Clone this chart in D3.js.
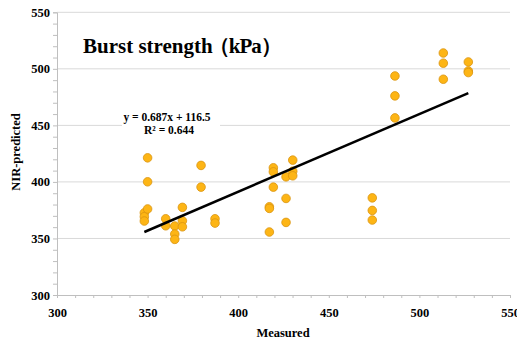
<!DOCTYPE html>
<html>
<head>
<meta charset="utf-8">
<script src="https://cdn.jsdelivr.net/npm/d3@7/dist/d3.min.js"></script>
<style>
  html, body { margin: 0; padding: 0; background: #fff; }
  svg { display: block; }
  .tick text { font-family: "Liberation Serif", "Times New Roman", serif; font-weight: bold; font-size: 12.5px; fill: #000; }
</style>
</head>
<body>
<svg id="chart" width="517" height="343"></svg>
<script>
// Burst strength: measured vs NIR-predicted (kPa)
const measured = [
  348.2, 348.2, 348.2, 350, 350, 350,
  360, 360, 365, 365, 365,
  369.2, 369.2, 369.2, 379.5, 379.5, 387.2, 387.2,
  417.2, 417.2, 417.2, 419.4, 419.4, 419.4,
  426.4, 426.4, 426.4, 430.1, 430.1, 430.1,
  474, 474, 474, 486.5, 486.5, 486.5,
  513.2, 513.2, 513.2, 527, 527, 527
];
const predicted = [
  372.7, 369.2, 365.4, 421.3, 400.1, 376.1,
  367.4, 361.2, 361, 353.9, 349.2,
  377.5, 365.6, 360.3, 414.6, 395.4, 367.4, 363.6,
  378, 376.6, 355.7, 412.5, 408.9, 395.4,
  404.5, 385.4, 364.2, 419.3, 409.5, 405.4,
  385.9, 374.8, 366.3, 493.7, 476.1, 456.6,
  514, 505, 490.8, 506.1, 498.1, 496.7
];
const xTicks = [300, 350, 400, 450, 500, 550];
const yTicks = [300, 350, 400, 450, 500, 550];
const slope = 0.687;
const intercept = 116.5;
const r2 = 0.644;
const titleMain = "Burst strength";
const titleUnit = "（kPa）";

const svg = d3.select("#chart");
const x = d3.scaleLinear().domain([300, 550]).range([57, 510]);
const y = d3.scaleLinear().domain([300, 550]).range([295, 12.3]);
const minor = d3.range(300, 551, 10);

// horizontal gridlines
svg.append("g").selectAll("line").data(yTicks.slice(1)).join("line")
  .attr("x1", x(300)).attr("x2", x(550))
  .attr("y1", d => y(d)).attr("y2", d => y(d))
  .attr("stroke", "#d9d9d9").attr("stroke-width", 1);

// minor ticks
const yMinor = svg.append("g").attr("transform", `translate(${x(300)},0)`)
  .call(d3.axisLeft(y).tickValues(minor).tickSize(4).tickFormat(""));
const xMinor = svg.append("g").attr("transform", `translate(0,${y(300)})`)
  .call(d3.axisBottom(x).tickValues(minor).tickSize(3).tickFormat(""));
[yMinor, xMinor].forEach(g => {
  g.select(".domain").attr("stroke", "#bfbfbf");
  g.selectAll(".tick line").attr("stroke", "#bfbfbf");
});

// labelled axes
const yAxis = svg.append("g").attr("transform", `translate(${x(300)},0)`)
  .call(d3.axisLeft(y).tickValues(yTicks).tickSize(0).tickPadding(7));
const xAxis = svg.append("g").attr("transform", `translate(0,${y(300)})`)
  .call(d3.axisBottom(x).tickValues(xTicks).tickSize(0).tickPadding(13.5));
[yAxis, xAxis].forEach(g => g.select(".domain").remove());

// axis titles
svg.append("text")
  .attr("x", 283).attr("y", 337)
  .attr("text-anchor", "middle")
  .attr("font-family", "Liberation Serif, Times New Roman, serif")
  .attr("font-weight", "bold").attr("font-size", 12.5)
  .text("Measured");
svg.append("text")
  .attr("transform", "translate(20,152) rotate(-90)")
  .attr("text-anchor", "middle")
  .attr("font-family", "Liberation Serif, Times New Roman, serif")
  .attr("font-weight", "bold").attr("font-size", 12.5)
  .text("NIR-predicted");

// points
svg.append("g").selectAll("circle").data(measured.map((m, i) => [m, predicted[i]])).join("circle")
  .attr("cx", d => x(d[0])).attr("cy", d => y(d[1])).attr("r", 4.3)
  .attr("fill", "#fdb515").attr("stroke", "#d99411").attr("stroke-width", 0.8);

// linear trendline over the measured range
const xMin = d3.min(measured), xMax = d3.max(measured);
svg.append("line")
  .attr("x1", x(xMin)).attr("y1", y(slope * xMin + intercept))
  .attr("x2", x(xMax)).attr("y2", y(slope * xMax + intercept))
  .attr("stroke", "#000").attr("stroke-width", 2.5);

// trendline equation label
svg.append("rect").attr("x", 122).attr("y", 108).attr("width", 98).attr("height", 30).attr("fill", "#fff");
const eq = svg.append("text")
  .attr("text-anchor", "middle")
  .attr("font-family", "Liberation Serif, Times New Roman, serif")
  .attr("font-weight", "bold").attr("font-size", 11.5);
eq.append("tspan").attr("x", 167).attr("y", 121).text(`y = ${slope}x + ${intercept}`);
eq.append("tspan").attr("x", 169).attr("y", 134).text(`R² = ${r2}`);

// title; the full-width unit brackets sit close to the text
const title = svg.append("text")
  .attr("x", 83).attr("y", 53)
  .attr("font-family", "Liberation Serif, Times New Roman, serif")
  .attr("font-weight", "bold").attr("font-size", 21);
title.append("tspan").text(titleMain);
title.append("tspan").attr("dx", -4).attr("letter-spacing", -1).text(titleUnit);
</script>
</body>
</html>
